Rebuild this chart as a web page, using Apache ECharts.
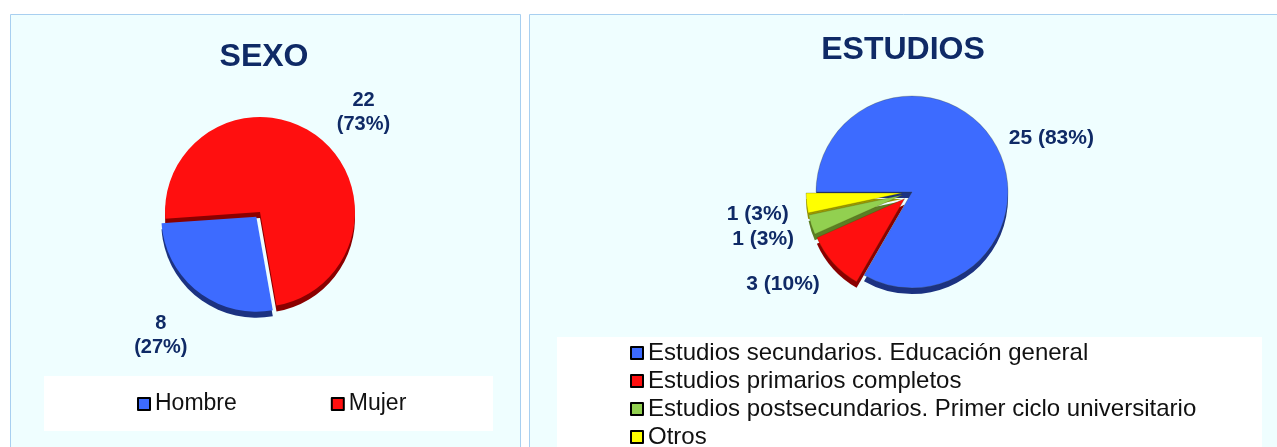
<!DOCTYPE html>
<html>
<head>
<meta charset="utf-8">
<script src="https://cdn.jsdelivr.net/npm/echarts@6/dist/echarts.min.js"></script>
<style>
html, body { margin: 0; padding: 0; background: #fff; }
#main { width: 1277px; height: 447px; }
</style>
</head>
<body>
<div id="main"></div>
<script>
// datos de las dos tartas
var sexoNames = ['Hombre', 'Mujer'];
var sexoValues = [8, 22];
var estudiosNames = [
    'Estudios secundarios. Educación general',
    'Estudios primarios completos',
    'Estudios postsecundarios. Primer ciclo universitario',
    'Otros'
];
var estudiosValues = [25, 3, 1, 1];

var sexoColors = ['#3d6bff', '#ff0f0f'];
var sexoDark = ['#1c3281', '#8a0000'];
var sexoExploded = [true, false];
var estudiosColors = ['#3d6bff', '#ff0f0f', '#92d050', '#ffff00'];
var estudiosDark = ['#1c3281', '#8a0000', '#5b7f24', '#9c9a00'];
var estudiosExploded = [false, true, true, true];

var navy = '#0f2a66';
var font = 'Liberation Sans, Arial, sans-serif';

function total(arr) {
    return arr.reduce(function (a, b) { return a + b; }, 0);
}
function buildData(names, values, colors, exploded) {
    return names.map(function (n, i) {
        return { name: n, value: values[i], selected: exploded[i], itemStyle: { color: colors[i] } };
    });
}

var sexoTotal = total(sexoValues);
var estudiosTotal = total(estudiosValues);

var myChart = echarts.init(document.getElementById('main'));

var option = {
    animation: false,
    title: [
        {
            text: 'SEXO', left: 259, top: 36, textAlign: 'center',
            textStyle: { fontSize: 32, fontWeight: 'bold', color: navy, fontFamily: font }
        },
        {
            text: 'ESTUDIOS', left: 898, top: 29, textAlign: 'center',
            textStyle: { fontSize: 32, fontWeight: 'bold', color: navy, fontFamily: font }
        }
    ],
    graphic: [
        { type: 'rect', z: -10, shape: { x: 10.5, y: 14.5, width: 510, height: 450 },
          style: { fill: '#effeff', stroke: '#a8cff0', lineWidth: 1 } },
        { type: 'rect', z: -10, shape: { x: 529.5, y: 14.5, width: 760, height: 450 },
          style: { fill: '#effeff', stroke: '#a8cff0', lineWidth: 1 } },
        { type: 'rect', z: -9, shape: { x: 44, y: 376, width: 449, height: 55 }, style: { fill: '#fff' } },
        { type: 'rect', z: -9, shape: { x: 557, y: 337, width: 705, height: 120 }, style: { fill: '#fff' } }
    ],
    legend: [
        {
            data: sexoNames,
            orient: 'horizontal',
            left: 137, top: 391, padding: 0,
            icon: 'rect', itemWidth: 12, itemHeight: 12, itemGap: 94,
            selectedMode: false,
            itemStyle: { borderColor: '#000', borderWidth: 2 },
            textStyle: { fontSize: 23, color: '#111', fontFamily: font, lineHeight: 26 }
        },
        {
            data: estudiosNames,
            orient: 'vertical',
            left: 630, top: 340, height: 160, padding: 0,
            icon: 'rect', itemWidth: 12, itemHeight: 12, itemGap: 2,
            selectedMode: false,
            itemStyle: { borderColor: '#000', borderWidth: 2 },
            textStyle: { fontSize: 24, color: '#111', fontFamily: font, lineHeight: 26 }
        }
    ],
    series: [
        {
            name: 'SEXO',
            type: 'pie',
            z: 3,
            center: [260, 212],
            radius: 95,
            startAngle: 280,
            clockwise: true,
            selectedMode: 'multiple',
            selectedOffset: 6,
            avoidLabelOverlap: false,
            emphasis: { disabled: true },
            label: {
                position: 'outside',
                color: navy, fontSize: 20, fontWeight: 'bold', fontFamily: font, lineHeight: 24,
                formatter: function (p) {
                    return p.value + '\n(' + Math.round(p.value / sexoTotal * 100) + '%)';
                }
            },
            labelLine: { show: false, length: 52, length2: 0 },
            // Excel deja la etiqueta grande algo más abajo que el radio medio
            labelLayout: function (p) {
                return p.dataIndex === 1 ? { align: 'center', dx: 8, dy: 16 } : { align: 'center', dy: 3 };
            },
            data: buildData(sexoNames, sexoValues, sexoColors, sexoExploded)
        },
        {
            name: 'SEXO 3D',
            type: 'pie',
            z: 2,
            silent: true,
            center: [260, 218],
            radius: 95,
            startAngle: 280,
            clockwise: true,
            selectedMode: 'multiple',
            selectedOffset: 6,
            label: { show: false },
            labelLine: { show: false },
            emphasis: { disabled: true },
            data: buildData(sexoNames, sexoValues, sexoDark, sexoExploded)
        },
        {
            name: 'ESTUDIOS',
            type: 'pie',
            z: 3,
            center: [912, 192],
            radius: 96,
            startAngle: 180,
            clockwise: true,
            selectedMode: 'multiple',
            selectedOffset: 10,
            avoidLabelOverlap: false,
            emphasis: { disabled: true },
            itemStyle: { borderColor: 'rgba(60,60,0,0.5)', borderWidth: 0.5 },
            label: {
                position: 'outside',
                color: navy, fontSize: 21, fontWeight: 'bold', fontFamily: font,
                formatter: function (p) {
                    return p.value + ' (' + Math.round(p.value / estudiosTotal * 100) + '%)';
                }
            },
            labelLine: { show: false, length: 18, length2: 0 },
            labelLayout: function (p) {
                return p.dataIndex === 0 ? { dx: -7, dy: 3 } : { dx: 5, dy: 9 };
            },
            data: buildData(estudiosNames, estudiosValues, estudiosColors, estudiosExploded)
        },
        {
            name: 'ESTUDIOS 3D',
            type: 'pie',
            z: 2,
            silent: true,
            center: [912, 198],
            radius: 96,
            startAngle: 180,
            clockwise: true,
            selectedMode: 'multiple',
            selectedOffset: 10,
            label: { show: false },
            labelLine: { show: false },
            emphasis: { disabled: true },
            data: buildData(estudiosNames, estudiosValues, estudiosDark, estudiosExploded)
        }
    ]
};
myChart.setOption(option);
</script>
</body>
</html>
